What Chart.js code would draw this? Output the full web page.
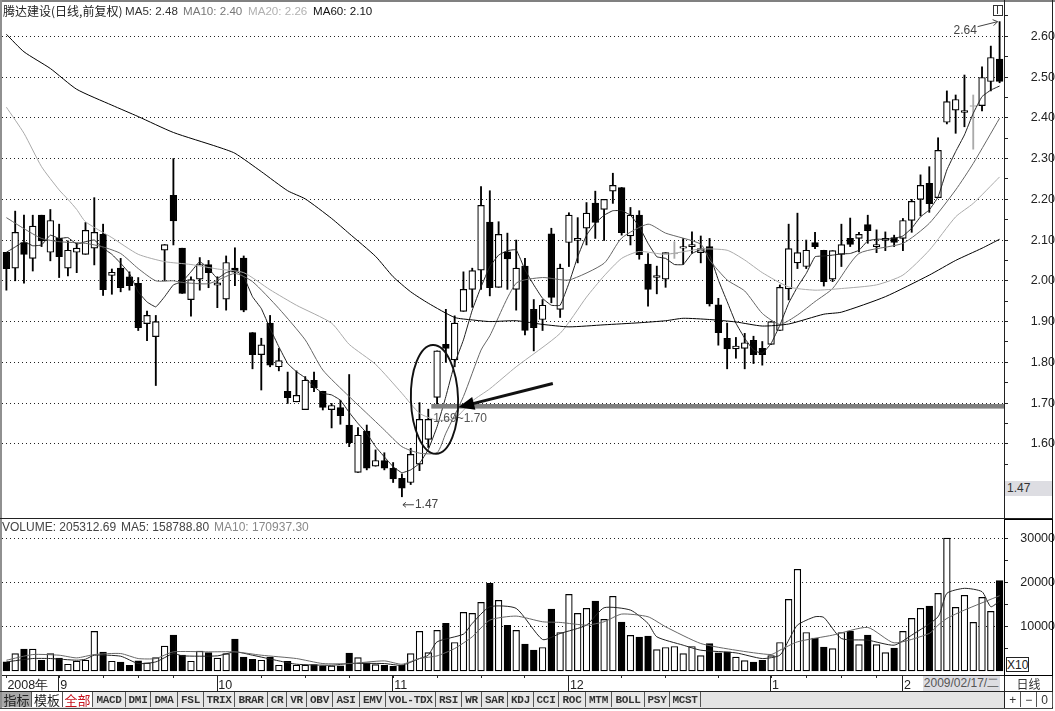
<!DOCTYPE html>
<html lang="zh"><head><meta charset="utf-8">
<script src="https://cdn.jsdelivr.net/npm/chart.js@4"></script>
<style>
html,body{margin:0;padding:0;background:#fff;}
#wrap{position:relative;width:1055px;height:711px;overflow:hidden;background:#fff;font-family:"Liberation Sans",Arial,sans-serif;}
canvas{position:absolute;left:0;}
.t{position:absolute;white-space:nowrap;font-size:12px;line-height:14px;}
.l{position:absolute;background:#222;}
.btn{position:absolute;top:692px;height:15px;line-height:15px;background:#e6e6e6;border-right:1px solid #555;text-align:center;font:bold 11px/16px "Liberation Mono",monospace;color:#333;box-sizing:border-box;letter-spacing:-.3px;}
.cjk{font:13px/16px "Noto Sans CJK SC",sans-serif;letter-spacing:0;}
</style></head><body>
<div id="wrap">
<canvas id="price" width="1055" height="519" style="top:0"></canvas>
<canvas id="vol" width="1055" height="172" style="top:519px"></canvas>
<div id="dom"></div>
</div>
<script>
const categories = Array.from({length:114},(_,i)=>i);
const kinds = "BWBWBWBWWW"+"WBWBBBWWWB"+"BWWBWWBBBW"+"BWBWWBBWBB"+"WBWBBBWWWW"+"BWWWWBWBWB"+"BWBWWWWBWW"+"BWBBWWGWWW"+"BBBWWBBWWW"+"WWBBWWBWBW"+"WBWWWBWWWW"+"GWWB";
const bodyTop = [2.070,2.119,2.094,2.134,2.161,2.148,2.104,2.075,2.080,2.124,
2.119,2.114,2.021,2.031,2.010,1.994,1.915,1.900,2.089,2.210,
2.080,2.003,2.040,2.040,1.995,2.045,2.031,2.056,1.873,1.843,
1.896,1.804,1.729,1.719,1.756,1.756,1.729,1.694,1.689,1.646,
1.621,1.631,1.559,1.559,1.540,1.515,1.574,1.660,1.660,1.828,
1.844,1.896,1.979,2.025,2.185,2.144,2.114,2.071,2.031,2.036,
1.930,1.940,2.115,2.031,2.161,2.104,2.166,2.191,2.200,2.234,
2.229,2.161,2.161,2.041,2.013,2.069,2.068,2.084,2.089,2.079,
2.084,1.941,1.859,1.840,1.848,1.854,1.834,1.900,1.984,2.079,
2.069,2.075,2.094,2.075,2.074,2.089,2.104,2.114,2.138,2.089,
2.104,2.106,2.148,2.195,2.234,2.239,2.320,2.440,2.445,2.418,
2.430,2.499,2.548,2.544];
const bodyBot = [2.030,2.031,2.065,2.055,2.098,2.070,2.059,2.031,2.070,2.065,
2.080,1.978,2.013,1.983,1.988,1.885,1.895,1.863,2.075,2.147,
1.969,1.954,2.004,2.020,1.989,1.955,2.021,1.928,1.819,1.819,
1.793,1.789,1.713,1.703,1.684,1.738,1.689,1.684,1.669,1.603,
1.530,1.540,1.545,1.540,1.514,1.491,1.505,1.550,1.611,1.714,
1.834,1.806,1.925,1.979,2.026,1.983,1.984,2.054,1.979,1.878,
1.885,1.905,1.959,1.930,2.094,2.099,2.129,2.143,2.175,2.220,
2.118,2.110,2.064,1.979,2.008,2.004,2.066,2.080,2.084,2.069,
1.943,1.873,1.833,1.833,1.834,1.819,1.819,1.844,1.878,1.980,
2.044,2.035,2.084,1.998,2.004,2.065,2.089,2.104,2.123,2.084,
2.099,2.094,2.104,2.148,2.200,2.189,2.204,2.389,2.419,2.413,
2.428,2.430,2.489,2.489];
const highs = [2.070,2.171,2.161,2.161,2.161,2.175,2.139,2.098,2.092,2.143,
2.204,2.139,2.029,2.055,2.022,2.008,1.926,1.915,2.089,2.300,
2.080,2.010,2.057,2.050,2.010,2.061,2.081,2.061,1.873,1.859,
1.915,1.834,1.776,1.779,1.765,1.776,1.729,1.699,1.707,1.770,
1.640,1.646,1.585,1.578,1.554,1.526,1.589,1.701,1.685,1.828,
1.930,1.914,2.022,2.031,2.231,2.221,2.145,2.117,2.100,2.055,
1.954,1.954,2.129,2.041,2.167,2.155,2.192,2.220,2.200,2.264,
2.229,2.180,2.172,2.067,2.036,2.069,2.096,2.104,2.120,2.110,
2.104,1.957,1.896,1.861,1.871,1.864,1.851,1.900,1.990,2.139,
2.166,2.100,2.119,2.075,2.074,2.139,2.154,2.119,2.161,2.125,
2.120,2.112,2.153,2.200,2.260,2.280,2.351,2.466,2.456,2.505,
2.456,2.525,2.576,2.636];
const lows = [1.977,2.000,1.994,2.024,2.084,2.049,2.008,2.012,2.020,2.065,
2.039,1.964,1.967,1.973,1.977,1.878,1.853,1.743,2.000,2.088,
1.969,1.913,1.977,1.983,1.934,1.928,1.988,1.924,1.784,1.732,
1.789,1.779,1.699,1.703,1.684,1.728,1.683,1.639,1.648,1.593,
1.530,1.536,1.545,1.536,1.505,1.470,1.500,1.534,1.591,1.698,
1.800,1.789,1.925,1.935,1.979,1.963,1.984,1.979,1.928,1.867,
1.828,1.878,1.946,1.910,2.035,2.044,2.088,2.104,2.099,2.190,
2.112,2.088,2.053,1.938,1.968,1.984,2.055,2.040,2.067,2.044,
1.938,1.842,1.784,1.810,1.784,1.797,1.793,1.844,1.878,1.953,
2.030,2.030,2.079,1.987,1.998,2.035,2.084,2.071,2.092,2.069,
2.074,2.084,2.074,2.119,2.159,2.168,2.204,2.385,2.362,2.378,
2.323,2.417,2.466,2.486];
const ma5 = [2.070,2.083,2.096,2.086,2.088,2.112,2.104,2.106,2.090,2.096,
2.100,2.080,2.065,2.043,2.018,1.973,1.948,1.936,1.961,1.990,
1.998,2.022,2.047,2.030,2.006,2.020,2.026,2.010,1.961,1.932,
1.883,1.838,1.797,1.777,1.762,1.740,1.724,1.720,1.707,1.677,
1.650,1.626,1.593,1.568,1.544,1.529,1.536,1.552,1.586,1.642,
1.716,1.797,1.855,1.928,1.985,2.035,2.063,2.074,2.076,2.027,
1.990,1.957,1.940,1.940,1.994,2.059,2.112,2.141,2.161,2.172,
2.172,2.161,2.133,2.092,2.059,2.055,2.040,2.040,2.067,2.076,
2.063,2.002,1.949,1.896,1.859,1.830,1.822,1.846,1.891,1.945,
1.985,2.018,2.059,2.061,2.063,2.066,2.067,2.075,2.098,2.102,
2.102,2.104,2.110,2.129,2.157,2.174,2.206,2.272,2.317,2.358,
2.411,2.452,2.468,2.478];
const ma10Idx = [0,2,4,6,9,11,13,15,17,19,20,23,26,28,31,34,36,39,41,43,45,47,49,50,52,54,55,58,61,64,68,70,73,75,79,80,82,84,86,88,90,92,94,97,102,105,108,110,113];
const ma10Val = [2.155,2.128,2.104,2.096,2.092,2.083,2.067,2.030,2.000,2.000,1.996,1.993,2.018,1.998,1.932,1.855,1.781,1.716,1.675,1.634,1.593,1.577,1.578,1.626,1.716,1.830,1.865,1.994,2.008,2.002,2.043,2.105,2.139,2.117,2.090,2.051,2.002,1.975,1.920,1.893,1.916,1.949,1.981,2.067,2.092,2.141,2.223,2.288,2.399];
const ma20Idx = [0,2,4,6,7,8,9,12,15,18,21,24,27,30,33,37,39,42,45,47,49,51,53,55,58,63,66,68,70,72,75,79,82,84,86,89,92,95,99,102,105,108,110,113];
const ma20Val = [2.426,2.362,2.280,2.223,2.200,2.175,2.145,2.106,2.065,2.047,2.040,2.029,2.020,1.978,1.940,1.896,1.844,1.795,1.724,1.675,1.658,1.662,1.705,1.735,1.789,1.871,1.960,2.012,2.055,2.072,2.065,2.078,2.075,2.051,2.020,1.985,1.977,1.981,1.990,2.014,2.075,2.157,2.190,2.255];
const ma60Idx = [0,2,5,8,12,15,19,24,26,29,32,34,37,39,42,44,46,48,51,53,55,58,61,64,68,72,75,77,80,83,86,89,93,95,100,105,108,111,113];
const ma60Val = [2.605,2.562,2.521,2.470,2.431,2.403,2.364,2.329,2.313,2.268,2.221,2.201,2.153,2.116,2.060,2.010,1.973,1.945,1.910,1.904,1.900,1.902,1.893,1.887,1.892,1.897,1.902,1.908,1.905,1.899,1.889,1.894,1.918,1.923,1.961,2.014,2.050,2.080,2.102];
const volumes = [2050,3950,4940,4940,2430,3950,2890,1520,2200,2430,
8970,4260,2200,1980,1290,2280,1820,3040,5620,8130,
3570,2200,4480,4180,2890,3950,7220,3120,2660,2430,
3120,1290,2200,1290,1290,1440,1140,1140,1140,4030,
3040,1820,1440,1290,1060,1290,3950,8970,4180,9200,
10790,6460,13300,13070,15580,19910,16040,10340,9200,6080,
4710,5320,14060,8740,17400,13070,14210,15880,11700,16950,
11100,8060,7680,7900,4860,5320,5550,3950,5550,3500,
6230,4100,4330,3120,2360,1980,2430,3500,6460,16260,
23100,8740,7450,5400,5090,8740,9040,6000,8130,6000,
4180,5170,8970,11930,14210,14740,17630,30170,14440,17180,
11020,16720,13530,20530];
const volMa5Idx = [0,3,5,8,9,10,13,15,17,19,20,24,26,28,31,33,37,39,43,45,47,48,49,52,53,55,58,61,63,66,68,71,73,74,77,79,83,86,88,89,90,92,93,95,98,101,103,106,107,109,111,112,113];
const volMa5Val = [2050,2810,2810,2430,2660,3570,3340,1670,2050,3950,3420,3420,4330,3570,2280,1520,1290,1670,1670,1290,2810,3570,6610,8360,10790,14590,14210,7140,8510,10410,14360,13830,10790,7750,5850,4710,4100,2810,3570,6990,10410,12310,12160,7370,6990,5850,8130,12310,17630,18770,18010,14590,15880];
const volMa10Idx = [0,3,6,8,10,13,15,17,19,23,26,29,33,36,39,43,45,47,49,51,53,55,58,61,63,66,68,70,73,75,79,83,87,88,90,94,98,101,105,106,107,109,113];
const volMa10Val = [2430,3720,3570,2960,3720,3950,2810,2810,4330,4330,4330,3570,2810,1670,1670,2280,1520,2810,3420,5090,7750,11550,12460,11170,11020,10410,11170,12920,12310,10030,6230,4710,3720,4710,6610,8130,9880,6380,8510,10410,11930,13830,17090];
const priceMajor = [1.6,1.7,1.8,1.9,2.0,2.1,2.2,2.3,2.4,2.5,2.6];
const priceMinor = [1.55,1.65,1.75,1.85,1.95,2.05,2.15,2.25,2.35,2.45,2.55,2.65];
const volMajor = [10000,20000,30000];
const volMinor = [5000,15000,25000];
const monthLabels = {0:"2008年",6:"9",24:"10",44:"11",64:"12",87:"1",102:"2"};
const weekTicks = [11,15,19,29,34,39,49,54,59,70,75,81,91,95,99];
const indicatorButtons = ["MACD","DMI","DMA","FSL","TRIX","BRAR","CR","VR","OBV","ASI","EMV","VOL-TDX","RSI","WR","SAR","KDJ","CCI","ROC","MTM","BOLL","PSY","MCST"];
const buttonEdges = [93,126,151,178,204,235,268,287,307,333,360,386,436,462,482,508,534,559,586,612,645,670,701];

const sparse=(idx,val)=>{const a=categories.map(()=>null);idx.forEach((k,i)=>a[k]=val[i]);return a;};
const ink=k=>k==='G'?'#aaa':'#000';
const fill=k=>k==='B'?'#000':k==='G'?'#aaa':'#fff';
const kindArr=kinds.split('');
const lineDs=(label,data,color,w,tension)=>({type:'line',label,data,borderColor:color,borderWidth:w,pointRadius:0,tension:tension,spanGaps:true,order:1});
Chart.defaults.animation=false;
Chart.defaults.font.family='"Liberation Sans",Arial,sans-serif';
Chart.defaults.font.size=12.5;

const annot={id:'annot',afterDatasetsDraw(c){
  const g=c.ctx,x=c.scales.x,y=c.scales.y;g.save();
  const yb=y.getPixelForValue(1.692),x48=x.getPixelForValue(48);
  g.fillStyle='#808080';g.fillRect(x48+3,yb-2.3,x.right-x48-3,4.6);
  g.font='12px "Liberation Sans"';g.fillStyle='#555';g.textBaseline='middle';
  g.fillText('1.69~1.70',x48+5,yb+12.5);
  g.strokeStyle='#111';g.lineWidth=1.9;g.beginPath();
  g.ellipse(x48+6.2,y.getPixelForValue(1.709),23.6,54.4,-0.03,0,Math.PI*2);g.stroke();
  const tx=x.getPixelForValue(51)+3.6,ty=yb+1,sx=x.getPixelForValue(62)+1.5,sy=y.getPixelForValue(1.748);
  const ang=Math.atan2(sy-ty,sx-tx),nx=Math.cos(ang),ny=Math.sin(ang);
  g.lineWidth=3;g.beginPath();g.moveTo(sx,sy);g.lineTo(tx+nx*12,ty+ny*12);g.stroke();
  g.fillStyle='#000';g.beginPath();g.moveTo(tx,ty);
  g.lineTo(tx+nx*16-ny*6.5,ty+ny*16+nx*6.5);g.lineTo(tx+nx*16+ny*6.5,ty+ny*16-nx*6.5);g.closePath();g.fill();
  g.fillStyle='#444';g.strokeStyle='#444';g.lineWidth=1;
  const lx=x.getPixelForValue(45),ly=y.getPixelForValue(1.47)+7;
  g.fillText('1.47',lx+13,ly+1);
  g.beginPath();g.moveTo(lx+12,ly+1);g.lineTo(lx+1,ly+1);g.moveTo(lx+4,ly-1.5);g.lineTo(lx+1,ly+1);g.lineTo(lx+4,ly+3.5);g.stroke();
  const hx=x.getPixelForValue(113),hy=y.getPixelForValue(2.636);
  g.fillText('2.64',hx-46,hy+9);
  g.beginPath();g.moveTo(hx-22,hy+5);g.lineTo(hx-2,hy);g.moveTo(hx-7,hy-2);g.lineTo(hx-2,hy);g.lineTo(hx-6,hy+4);g.stroke();
  g.restore();
}};
const monthTicks={id:'monthTicks',afterDraw(c){
  const g=c.ctx,x=c.scales.x;g.save();g.strokeStyle='#222';g.lineWidth=1;
  Object.keys(monthLabels).forEach(k=>{if(+k===0)return;const p=Math.round(x.getPixelForValue(+k)-0.7)+.5;
    g.beginPath();g.moveTo(p,c.chartArea.bottom);g.lineTo(p,c.chartArea.bottom+16);g.stroke();});
  g.restore();
}};
const fitY=s=>{s.width=51;s.paddingTop=0;s.paddingBottom=0;};
const gridColor=(major)=>ctx=>major.includes(ctx.tick&&ctx.tick.value)?'#222':'rgba(0,0,0,0)';

new Chart(document.getElementById('price'),{
  data:{labels:categories,datasets:[
    {type:'bar',label:'wick',data:categories.map(i=>[lows[i],highs[i]]),grouped:false,barThickness:1.2,backgroundColor:kindArr.map(ink),borderWidth:0,order:3},
    {type:'bar',label:'body',data:categories.map(i=>[bodyBot[i],bodyTop[i]]),grouped:false,barThickness:6.7,backgroundColor:kindArr.map(fill),borderColor:kindArr.map(ink),borderWidth:1.2,borderSkipped:false,order:2},
    lineDs('MA60',sparse(ma60Idx,ma60Val),'#000',1,0.2),
    lineDs('MA20',sparse(ma20Idx,ma20Val),'#aaa',1,0.2),
    lineDs('MA10',sparse(ma10Idx,ma10Val),'#666',1,0.2),
    lineDs('MA5',ma5,'#222',1,0.1)
  ]},
  options:{responsive:false,devicePixelRatio:1,events:[],
    layout:{padding:{left:2,top:2,bottom:1,right:0}},
    plugins:{legend:{display:false},tooltip:{enabled:false}},
    scales:{
      x:{type:'category',display:false,offset:true},
      y:{position:'right',bounds:'data',min:1.4179,max:2.6842,afterFit:fitY,
        afterBuildTicks:s=>{s.ticks=[...priceMajor,...priceMinor].sort((a,b)=>a-b).map(v=>({value:v}));},
        border:{display:false,dash:[1,3]},
        grid:{color:gridColor(priceMajor),tickColor:'#222',tickLength:4,tickBorderDash:[],lineWidth:1},
        ticks:{autoSkip:false,padding:18,crossAlign:'far',color:'#222',
          callback:v=>priceMajor.some(m=>Math.abs(m-v)<1e-6)?v.toFixed(2):''}
      }
    }
  },
  plugins:[annot]
});

new Chart(document.getElementById('vol'),{
  data:{labels:categories,datasets:[
    {type:'bar',label:'VOLUME',data:volumes,grouped:false,barThickness:6.7,backgroundColor:kindArr.map(k=>k==='B'?'#000':'#fff'),borderColor:'#000',borderWidth:1.2,borderSkipped:false,order:2},
    lineDs('MA10',sparse(volMa10Idx,volMa10Val),'#666',1,0.2),
    lineDs('MA5',sparse(volMa5Idx,volMa5Val),'#222',1,0.2)
  ]},
  options:{responsive:false,devicePixelRatio:1,events:[],
    layout:{padding:{left:2,top:0,bottom:0,right:0}},
    plugins:{legend:{display:false},tooltip:{enabled:false}},
    scales:{
      x:{type:'category',offset:true,afterFit:s=>{s.height=16;},
        border:{display:false},
        grid:{offset:false,drawOnChartArea:false,tickLength:3,tickColor:'#222'},
        ticks:{autoSkip:false,maxRotation:0,align:'start',padding:0,labelOffset:1,color:'#222',
          callback:(v,i)=>monthLabels[i]!==undefined?monthLabels[i]:(weekTicks.includes(i)?'':null)}
      },
      y:{position:'right',bounds:'data',min:-930,max:34530,afterFit:fitY,
        afterBuildTicks:s=>{s.ticks=[...volMajor,...volMinor].sort((a,b)=>a-b).map(v=>({value:v}));},
        border:{display:false,dash:[1,3]},
        grid:{color:gridColor(volMajor),tickColor:'#222',tickLength:4,tickBorderDash:[]},
        ticks:{autoSkip:false,padding:8,crossAlign:'far',color:'#222',
          callback:v=>volMajor.includes(v)?String(v):''}
      }
    }
  },
  plugins:[monthTicks]
});

const dom=document.getElementById('dom');
const add=(cls,css,txt)=>{const d=document.createElement('div');d.className=cls;d.style.cssText=css;if(txt!==undefined)d.textContent=txt;dom.appendChild(d);return d;};
add('l','left:0;top:0;width:1055px;height:1.5px;background:#808080');
add('l','left:0;top:0;width:1.6px;height:708px;background:#909090');
add('l','left:0;top:518px;width:1053px;height:1px');
add('l','left:2px;top:674.5px;width:1051px;height:1px');
add('l','left:0;top:691px;width:1053px;height:1px');
add('l','left:0;top:707.5px;width:1053px;height:1px;background:#444');
add('l','left:1004px;top:0;width:1px;height:708px');
add('l','left:1052px;top:0;width:1px;height:708px');
add('','position:absolute;left:1004px;top:518.5px;width:46.5px;height:155px;border:1.5px solid #000;');
add('t','left:1006px;top:657px;width:21px;height:13px;border:1px solid #222;font-size:12px;line-height:14px;text-align:center;background:#fff;color:#222','X10');
add('t','left:1005px;top:481px;width:47px;height:15px;background:#dddde2;color:#333;padding-left:2px;box-sizing:border-box;line-height:15px','1.47');
add('','position:absolute;left:992.5px;top:5px;width:8px;height:8.5px;border:1px solid #333;');
add('l','left:997px;top:5px;width:1px;height:9px;background:#333');
const hdr=[[3,'腾达建设(日线,前复权)','#222','"Noto Sans CJK SC"',12],[125,'MA5: 2.48','#333'],[183,'MA10: 2.40','#777'],[248,'MA20: 2.26','#b0b0b0'],[313,'MA60: 2.10','#111']];
hdr.forEach(h=>add('t',`left:${h[0]}px;top:4px;color:${h[2]};font-size:${h[4]||11.6}px;font-family:${h[3]||'"Liberation Sans"'}`,h[1]));
[[2,'VOLUME: 205312.69','#444'],[121,'MA5: 158788.80','#444'],[214,'MA10: 170937.30','#888']].forEach(h=>add('t',`left:${h[0]}px;top:520px;color:${h[2]}`,h[1]));
add('t','left:923px;top:676px;width:77px;height:14.5px;background:#dddde2;color:#555;line-height:15px;text-align:center','2009/02/17/二');
add('t','left:1005px;top:676px;width:47px;height:15px;text-align:center;color:#333;font-family:"Noto Sans CJK SC";line-height:15px','日线');
add('l','left:1.6px;top:692px;width:1002.4px;height:15.5px;background:#e4e4e4');
add('btn cjk','left:2px;width:30px;background:#a8a8a8;color:#222','指标');
add('btn cjk','left:32px;width:31px;background:#fff;color:#222','模板');
add('btn cjk','left:63px;width:30px;background:#fff;color:#c8141e','全部');
indicatorButtons.forEach((b,i)=>add('btn',`left:${buttonEdges[i]}px;width:${buttonEdges[i+1]-buttonEdges[i]}px`,b));
[[1005,'+'],[1021,'−'],[1037,'0']].forEach(([x,s])=>add('btn',`left:${x}px;width:16px;background:#fff;font:12px/16px "Liberation Sans"`,s));
</script>
</body></html>
